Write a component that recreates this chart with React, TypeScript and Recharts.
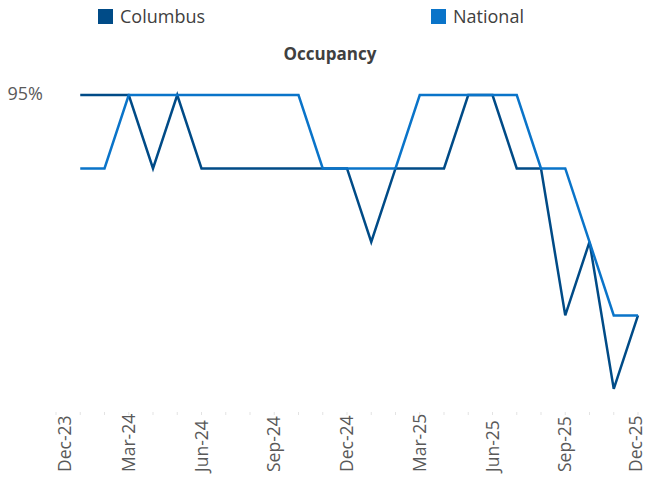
import React from "react";
import { LineChart, Line, XAxis, YAxis } from "recharts";

const months = [
  "Dec-23", "Jan-24", "Feb-24", "Mar-24", "Apr-24", "May-24", "Jun-24",
  "Jul-24", "Aug-24", "Sep-24", "Oct-24", "Nov-24", "Dec-24", "Jan-25",
  "Feb-25", "Mar-25", "Apr-25", "May-25", "Jun-25", "Jul-25", "Aug-25",
  "Sep-25", "Oct-25", "Nov-25", "Dec-25",
];

const columbus = [
  null, 95, 95, 95, 94, 95, 94, 94, 94, 94, 94, 94, 94, 93, 94, 94, 94, 95,
  95, 94, 94, 92, 93, 91, 92,
];

const national = [
  null, 94, 94, 95, 95, 95, 95, 95, 95, 95, 95, 94, 94, 94, 94, 95, 95, 95,
  95, 95, 94, 94, 93, 92, 92,
];

const yTicks = [95];

const data = months.map((month, i) => ({
  month,
  columbus: columbus[i],
  national: national[i],
}));

const FONT = "'Open Sans', sans-serif";
const DARK = "#004b87";
const LIGHT = "#0a74c9";

function MonthTick({ x, y, payload, index }: any) {
  const showLabel = index % 3 === 0;
  // first label sits a bit inside the plot, last one kept on the canvas
  let shift = 0;
  if (index === 0) shift = 9;
  if (index === months.length - 1) shift = -2;
  return (
    <g>
      <line x1={x} x2={x} y1={y - 1} y2={y + 2} stroke="#e3e3e3" strokeWidth={1} />
      {showLabel && (
        <text
          x={0}
          y={0}
          transform={`translate(${x + shift + 6},${y + 59}) rotate(-90)`}
          textAnchor="start"
          fill="#595959"
          fontSize={17.5}
          fontFamily={FONT}
        >
          {payload.value}
        </text>
      )}
    </g>
  );
}

function PercentTick({ x, y, payload }: any) {
  return (
    <text
      x={x - 5}
      y={y}
      dy={5}
      textAnchor="end"
      fill="#595959"
      fontSize={18}
      fontFamily={FONT}
    >
      {payload.value}%
    </text>
  );
}

export default function App() {
  return (
    <div
      style={{
        position: "fixed",
        top: 0,
        left: 0,
        width: 647,
        height: 477,
        background: "#fff",
        fontFamily: FONT,
      }}
    >
      <div style={{ position: "absolute", top: 4, left: 98, display: "flex", alignItems: "center", gap: 7 }}>
        <span style={{ width: 15, height: 15, background: DARK, display: "inline-block" }} />
        <span style={{ fontSize: 18, color: "#404040" }}>Columbus</span>
      </div>
      <div style={{ position: "absolute", top: 4, left: 431, display: "flex", alignItems: "center", gap: 7 }}>
        <span style={{ width: 15, height: 15, background: LIGHT, display: "inline-block" }} />
        <span style={{ fontSize: 18, color: "#404040" }}>National</span>
      </div>
      <div
        style={{
          position: "absolute",
          top: 42,
          left: 0,
          width: 660,
          textAlign: "center",
          fontWeight: 700,
          fontSize: 17,
          color: "#404040",
        }}
      >
        Occupancy
      </div>
      <LineChart
        width={647}
        height={477}
        data={data}
        margin={{ top: 95, right: 9, bottom: 0, left: 0 }}
      >
        <XAxis
          dataKey="month"
          interval={0}
          height={72}
          axisLine={false}
          tickLine={false}
          tick={<MonthTick />}
        />
        <YAxis
          width={56}
          domain={[90.78, 95]}
          ticks={yTicks}
          axisLine={false}
          tickLine={false}
          tick={<PercentTick />}
        />
        <Line
          dataKey="columbus"
          stroke={DARK}
          strokeWidth={2.5}
          dot={false}
          isAnimationActive={false}
        />
        <Line
          dataKey="national"
          stroke={LIGHT}
          strokeWidth={2.5}
          dot={false}
          isAnimationActive={false}
        />
      </LineChart>
    </div>
  );
}
